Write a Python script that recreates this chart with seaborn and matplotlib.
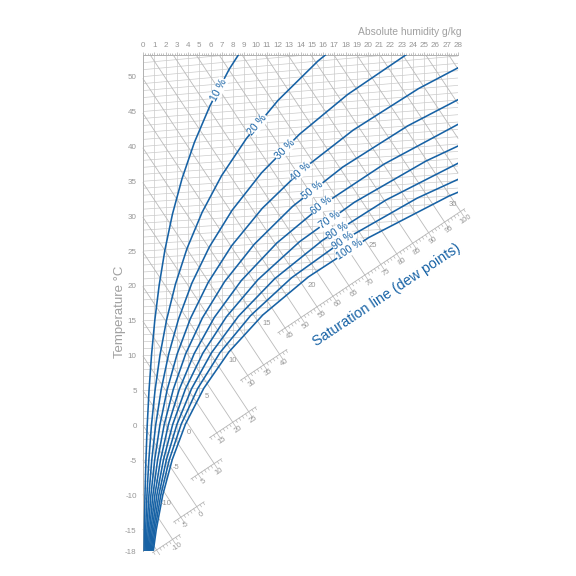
import numpy as np
import matplotlib
matplotlib.use("Agg")
import matplotlib.pyplot as plt
import seaborn as sns
from matplotlib.patches import Polygon

sns.set_theme(style="white")
plt.rcParams['font.family'] = ['Liberation Sans', 'DejaVu Sans']
plt.rcParams['axes.unicode_minus'] = False

# ---- data ----
temps = [-18, -15, -10, -5, 0, 5, 10, 15, 20, 25, 30, 35, 40, 45, 50, 55]
rh_levels = [10, 20, 30, 40, 50, 60, 70, 80, 90, 100]

# absolute humidity (g/kg) of each relative-humidity curve at the temperatures above
hum_10 = [0.092, 0.117, 0.176, 0.259, 0.375, 0.536, 0.755, 1.049, 1.439, 1.952, 2.617, 3.474, 4.567, 5.946, 7.676, 9.829]
hum_20 = [0.183, 0.235, 0.351, 0.519, 0.751, 1.073, 1.511, 2.101, 2.885, 3.916, 5.257, 6.987, 9.201, 12.008, 15.544, 19.974]
hum_30 = [0.275, 0.352, 0.527, 0.778, 1.128, 1.611, 2.270, 3.157, 4.338, 5.893, 7.919, 10.540, 13.904, 18.187, 23.611, 30.450]
hum_40 = [0.366, 0.469, 0.703, 1.038, 1.504, 2.150, 3.030, 4.216, 5.798, 7.882, 10.604, 14.134, 18.678, 24.488, 31.885]
hum_50 = [0.458, 0.587, 0.879, 1.298, 1.882, 2.690, 3.792, 5.280, 7.264, 9.884, 13.311, 17.768, 23.524, 30.914]
hum_60 = [0.549, 0.704, 1.055, 1.558, 2.259, 3.231, 4.557, 6.346, 8.737, 11.899, 16.042, 21.444, 28.444]
hum_70 = [0.641, 0.822, 1.231, 1.819, 2.638, 3.772, 5.322, 7.417, 10.217, 13.926, 18.797, 25.163, 33.439]
hum_80 = [0.732, 0.940, 1.408, 2.079, 3.016, 4.315, 6.090, 8.490, 11.704, 15.967, 21.575, 28.925]
hum_90 = [0.824, 1.057, 1.584, 2.340, 3.395, 4.859, 6.860, 9.568, 13.198, 18.021, 24.378, 32.730]
hum_100 = [0.916, 1.175, 1.761, 2.601, 3.775, 5.403, 7.631, 10.649, 14.700, 20.087, 27.205, 36.581]
curves = [hum_10, hum_20, hum_30, hum_40, hum_50, hum_60, hum_70, hum_80, hum_90, hum_100]

# where the "xx %" labels sit (absolute humidity)
rh_label_x = [6.7, 10.2, 12.6, 14.0, 15.1, 15.9, 16.6, 17.3, 17.8, 18.4]

dew_points = [-10, -5, 0, 5, 10, 15, 20, 25, 30]

x_ticks = list(range(0, 29))
t_ticks = [50, 45, 40, 35, 30, 25, 20, 15, 10, 5, 0, -5, -10, -15, -18]
enthalpies = list(range(-15, 126, 5))
# enthalpy scale pieces: first h, last h, offset of the piece
scale_pieces = [(-16, -8, -19.15), (-7, 2, -16.76), (3, 12, -12.24),
                (13, 27, -8.09), (28, 42, -2.81), (43, 101, 0.44)]

BLUE = '#1762a5'
GRID = '#cbcbcb'
TXT = '#969696'
T_TOP, X_MAX = 53.1, 28
SLOPE = 1.071
SCALE_ANGLE = np.degrees(np.arctan(SLOPE))


def skew(t, x):
    """oblique h,x chart: isotherms tilt with the water content"""
    return t + x * (0.0507 + 0.00185 * t)


def isenthalp(h, x):
    return (h - 2.45 * x) / 1.006


def scale_point(h, off):
    x = (h - 1.006 * off) / (2.45 + 1.006 * SLOPE)
    return x, off + SLOPE * x


fig = plt.figure(figsize=(5.76, 5.76), dpi=100)
ax = fig.add_axes([143 / 576, 25 / 576, 315 / 576, 496 / 576])
ax.set_xlim(0, X_MAX)
ax.set_ylim(-18, T_TOP)

t_arr = np.array(temps, dtype=float)
sat_x = np.array(hum_100)
sat_y = skew(t_arr[:len(sat_x)], sat_x)

# clip region = unsaturated part of the chart
y28 = np.interp(X_MAX, sat_x, sat_y)
keep = sat_x < X_MAX
verts = [(0, T_TOP), (X_MAX, T_TOP), (X_MAX, y28)]
verts += list(zip(sat_x[keep][::-1], sat_y[keep][::-1]))
verts += [(0, -18)]
clip = Polygon(verts, closed=True, transform=ax.transData, fill=False, lw=0)
ax.add_patch(clip)

xx = np.linspace(0, X_MAX, 50)
for t in range(-18, 54):
    ln, = ax.plot(xx, skew(t, xx), color=GRID, lw=0.5, zorder=1)
    ln.set_clip_path(clip)
for xv in range(1, X_MAX + 1):
    ln, = ax.plot([xv, xv], [-18, T_TOP], color=GRID, lw=0.5, zorder=1)
    ln.set_clip_path(clip)


# isenthalps, running on into the enthalpy scale
def piece_of(h):
    for h0, h1, off in scale_pieces:
        if h0 <= h <= h1:
            return off
    return None


for h in enthalpies:
    y0 = h / 1.006
    if y0 <= T_TOP:
        p0 = (0, y0)
    else:
        p0 = ((h - 1.006 * T_TOP) / 2.45, T_TOP)
    if p0[0] >= X_MAX:
        continue
    off = piece_of(h)
    if off is not None:
        p1 = scale_point(h, off)
    else:
        p1 = (X_MAX, isenthalp(h, X_MAX))
    ax.plot([p0[0], p1[0]], [p0[1], p1[1]], color='#bababa', lw=0.6,
            zorder=1, clip_on=False)

# enthalpy scale
for h0, h1, off in scale_pieces:
    a = scale_point(h0 - 0.3, off)
    b = scale_point(h1 + 0.3, off)
    ax.plot([a[0], b[0]], [a[1], b[1]], color='#b5b5b5', lw=0.6, clip_on=False)
    for h in range(h0, h1 + 1):
        px, py = scale_point(h, off)
        d = 0.14 if h % 5 else 0.28
        ax.plot([px, px + d], [py, py - 2.435 * d], color='#b5b5b5',
                lw=0.5, clip_on=False)
        if h % 5 == 0 and h >= -10:
            ax.text(px + 0.45, py - 2.435 * 0.45, str(h), fontsize=5.5,
                    color=TXT, rotation=SCALE_ANGLE,
                    transform_rotates_text=True, ha='center', va='center',
                    rotation_mode='anchor', clip_on=False)

# relative humidity curves
for rh, hum, lx in zip(rh_levels, curves, rh_label_x):
    xs = np.array(hum)
    ys = skew(t_arr[:len(xs)], xs)
    ax.plot(xs, ys, color=BLUE, lw=1.15, zorder=3, solid_capstyle='butt')
    ly = np.interp(lx, xs, ys)
    dy = np.interp(lx + 0.3, xs, ys) - np.interp(lx - 0.3, xs, ys)
    ang = np.degrees(np.arctan2(dy, 0.6))
    ax.text(lx, ly, f'{rh} %', fontsize=7.5, color=BLUE, rotation=ang,
            transform_rotates_text=True, rotation_mode='anchor',
            ha='center', va='center', zorder=4,
            bbox=dict(boxstyle='square,pad=0.05', fc='white', ec='none'))

# dew point labels along the saturation line
for t in dew_points:
    xs = hum_100[temps.index(t)]
    ax.annotate(str(t), (xs, skew(t, xs)), xytext=(2.5, -6),
                textcoords='offset points', fontsize=5.5, color=TXT,
                ha='center', va='center', annotation_clip=False)

ax.text(21.7, 18.7, 'Saturation line (dew points)', fontsize=10.3, color=BLUE,
        rotation=SCALE_ANGLE, transform_rotates_text=True,
        rotation_mode='anchor', ha='center', va='center', clip_on=False)

# axes
ax.xaxis.tick_top()
ax.set_xticks(x_ticks)
ax.set_xticks(np.arange(0, X_MAX + 0.01, 0.2), minor=True)
ax.set_yticks(t_ticks)
ax.set_yticks(range(-18, 54), minor=True)
ax.tick_params(which='both', colors='#a8a8a8', labelcolor=TXT, labelsize=5.8,
               width=0.5, pad=2)
ax.tick_params(which='major', length=2.5)
ax.tick_params(which='minor', length=1.5)
ax.tick_params(axis='x', which='both', top=True, bottom=False, labeltop=True, labelbottom=False)
ax.grid(False)
for side in ['right', 'bottom']:
    ax.spines[side].set_visible(False)
for side in ['top', 'left']:
    ax.spines[side].set_color('#b0b0b0')
    ax.spines[side].set_linewidth(0.7)
ax.plot([X_MAX, X_MAX], [y28, T_TOP], color='#b0b0b0', lw=0.7)

ax.set_ylabel('Temperature °C', fontsize=9.5, color='#a0a0a0')
ax.yaxis.set_label_coords(-0.054, 0.482)
ax.text(1.013, 1.046, 'Absolute humidity g/kg', transform=ax.transAxes,
        fontsize=7.4, color='#a0a0a0', ha='right', va='center')

fig.savefig('out.png', dpi=100, facecolor='white')
